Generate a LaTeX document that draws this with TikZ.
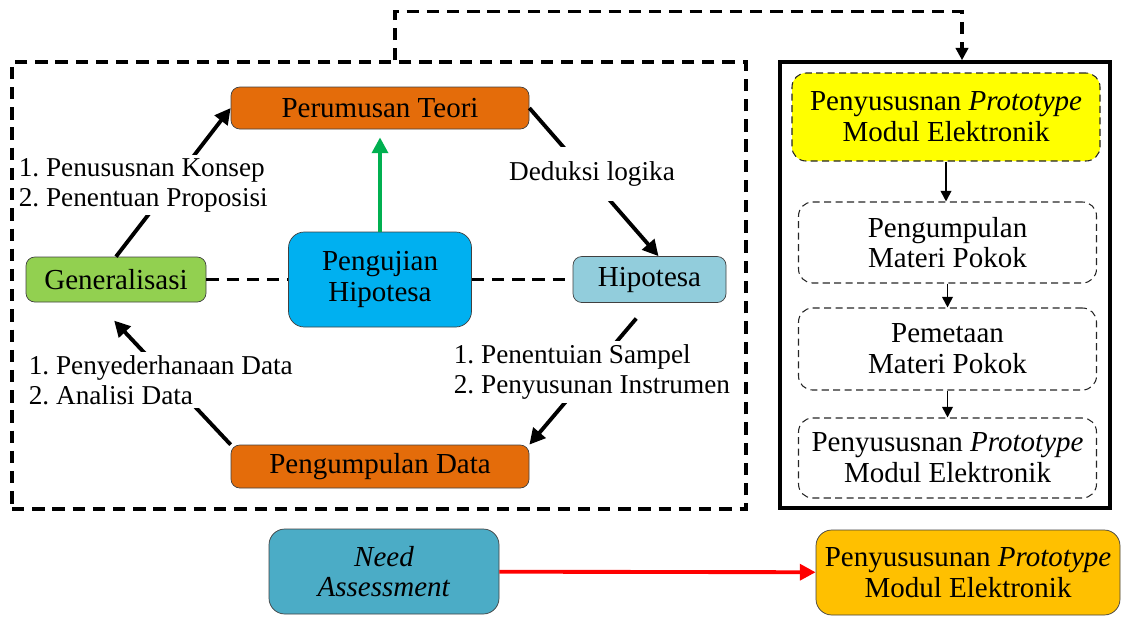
\documentclass[tikz,border=0pt]{standalone}
\usepackage{fontspec}
\setmainfont{Liberation Serif}
\usepackage{xcolor}
\usetikzlibrary{shapes, arrows.meta, positioning}

\definecolor{oranye}{HTML}{E46C0A}
\definecolor{hijau}{HTML}{92D050}
\definecolor{biru}{HTML}{00B0F0}
\definecolor{birumuda}{HTML}{92CDDC}
\definecolor{tosca}{HTML}{4BACC6}
\definecolor{kuning}{HTML}{FFFF00}
\definecolor{emas}{HTML}{FFC000}
\definecolor{hijautua}{HTML}{00B050}

\tikzset{
	kotak/.style={draw=black!75, rounded corners=5pt, align=center, inner sep=1pt},
	rancang/.style={kotak, draw=black!85, semithick, dash pattern=on 4pt off 2.5pt, rounded corners=8pt, minimum width=5.96cm, minimum height=1.62cm},
	ket/.style={font=\fontsize{15.5}{17}\selectfont, fill=white, align=left, inner sep=2pt},
	panah/.style={line width=2.2pt, -{Triangle[length=9pt,width=9pt]}},
	panahkecil/.style={line width=1pt, -{Triangle[length=6pt,width=6pt]}},
	garis/.style={black, line width=1.8pt, dash pattern=on 7pt off 4.5pt}
}

\begin{document}
\begin{tikzpicture}[every node/.style={font=\fontsize{16.5}{17.5}\selectfont}]
		\useasboundingbox (0,0) rectangle (22.44,12.34);
		% siklus penelitian
		\node[kotak, fill=oranye, minimum width=5.96cm, minimum height=0.84cm] (teori) at (7.6,10.18) {Perumusan Teori};
		\node[kotak, fill=biru, rounded corners=9pt, minimum width=3.66cm, minimum height=1.9cm] (uji) at (7.6,6.75) {Pengujian\\Hipotesa};
		\node[kotak, fill=hijau, minimum width=3.6cm, minimum height=0.9cm] (gen) at (2.32,6.75) {Generalisasi};
		\node[kotak, fill=birumuda, minimum width=3.06cm, minimum height=0.92cm] (hipo) at (12.99,6.75) {Hipotesa};
		\node[kotak, fill=oranye, minimum width=5.96cm, minimum height=0.86cm] (data) at (7.6,3.01) {Pengumpulan Data};
		\draw[garis] (gen) -- (uji);
		\draw[garis] (uji) -- (hipo);
		\draw[panah, hijautua, shorten >=0.16cm] (uji) -- (teori);
		\draw[panah] (gen.north) -- (teori.west);
		\draw[panah] (teori.east) -- ([xshift=0.18cm]hipo.north);
		\draw[panah, shorten <=0.41cm] (hipo.south) -- (data.north east);
		\draw[panah, shorten >=0.5cm] (data.north west) -- ([xshift=-0.38cm]gen.south);
		\node[ket, anchor=west] (konsep) at (0.3,8.64) {1.\ Penususnan Konsep\\2.\ Penentuan Proposisi};
		\node[ket, inner ysep=0.3cm] (deduksi) at (11.84,8.86) {Deduksi logika};
		\node[ket, anchor=west] (olah) at (0.5,4.74) {1.\ Penyederhanaan Data\\2.\ Analisi Data};
		\node[ket, anchor=west] (sampel) at (9.0,4.9) {1.\ Penentuian Sampel\\2.\ Penyusunan Instrumen};
		% tahap pengembangan
		\node[rancang, fill=kuning, minimum width=6.16cm, minimum height=1.76cm] (proto1) at (18.92,10.0) {Penyususnan \textit{Prototype}\\Modul Elektronik};
		\node[rancang] (kumpul) at (18.95,7.49) {Pengumpulan\\Materi Pokok};
		\node[rancang, minimum height=1.64cm] (peta) at (18.95,5.36) {Pemetaan\\Materi Pokok};
		\node[rancang, minimum height=1.6cm] (proto2) at (18.95,3.18) {Penyususnan \textit{Prototype}\\Modul Elektronik};
		\draw[panahkecil] (proto1.south) -- (proto1.south |- kumpul.north);
		\draw[panahkecil] (kumpul) -- (peta);
		\draw[panahkecil] (peta) -- (proto2);
		% bingkai
		\node[draw, garis, inner sep=0pt, minimum width=14.68cm, minimum height=8.94cm] (siklus) at (7.58,6.63) {};
		\node[draw, line width=2pt, inner sep=0pt, minimum width=6.6cm, minimum height=8.92cm] (kerangka) at (18.9,6.64) {};
		\draw[garis, -{Triangle[length=7pt,width=7pt]}] ([xshift=0.32cm]siklus.north) -- ++(0,0.98) -| ([xshift=0.34cm]kerangka.north);
		% bawah
		\node[kotak, fill=tosca, rounded corners=9pt, minimum width=4.6cm, minimum height=1.7cm] (need) at (7.68,0.91) {\textit{Need}\\\textit{Assessment}};
		\node[kotak, fill=emas, rounded corners=9pt, minimum width=6.08cm, minimum height=1.7cm] (proto3) at (19.36,0.89) {Penyususunan \textit{Prototype}\\Modul Elektronik};
		\draw[panah, red] (need) -- (proto3);
\end{tikzpicture}
\end{document}
